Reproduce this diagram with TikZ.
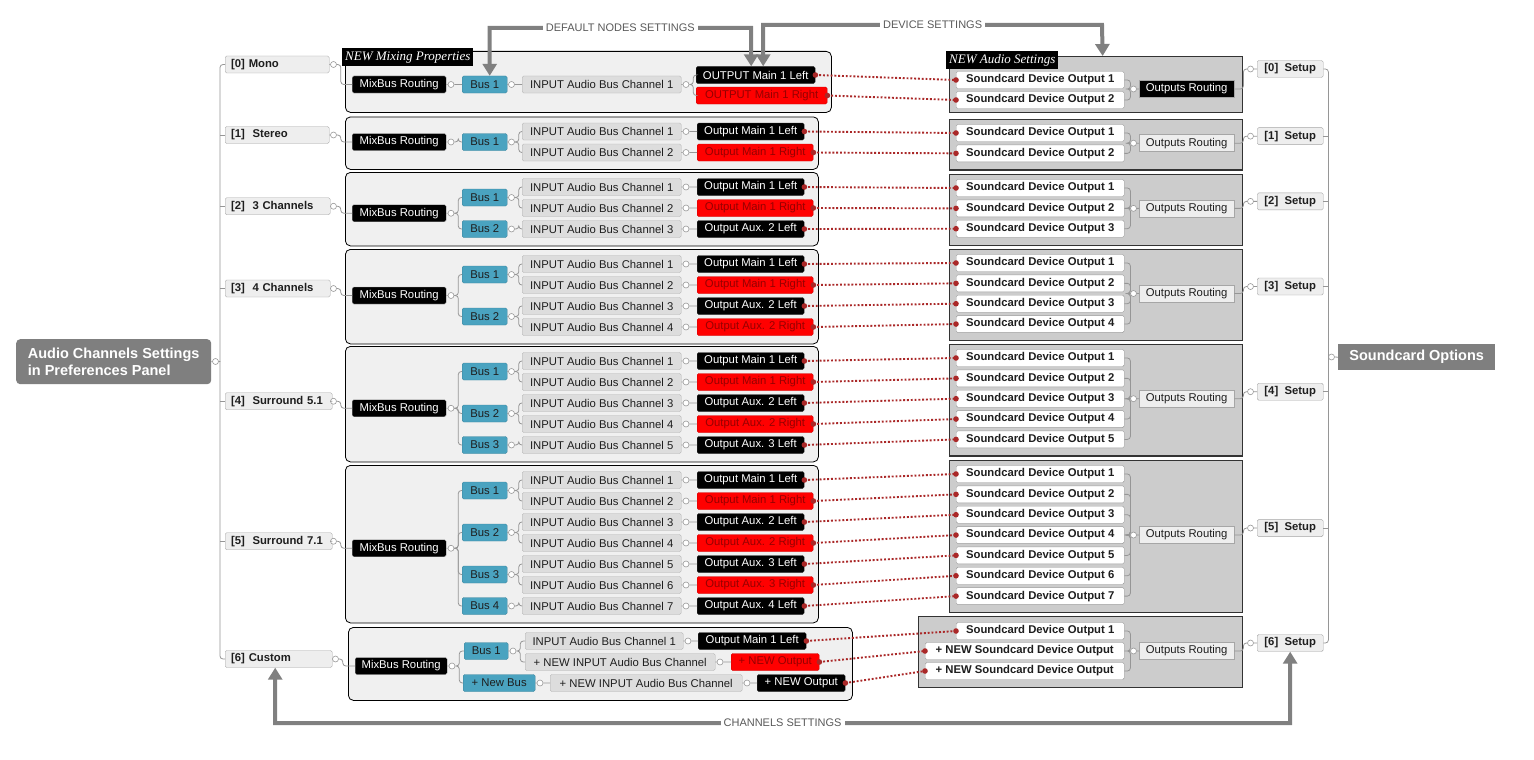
\documentclass[tikz,border=0pt]{standalone}
\usepackage{fontspec}
\setmainfont{Liberation Sans}
\newfontfamily\tagserif{Liberation Serif}
\usetikzlibrary{arrows.meta}
\definecolor{busc}{RGB}{74,163,192}
\definecolor{catfill}{RGB}{238,238,238}
\definecolor{inpfill}{RGB}{221,221,221}
\definecolor{panelfill}{RGB}{240,240,240}
\definecolor{rpanelfill}{RGB}{204,204,204}
\definecolor{bigfill}{RGB}{127,127,127}
\definecolor{arrowc}{RGB}{128,128,128}
\definecolor{linec}{RGB}{150,150,150}
\definecolor{dotc}{RGB}{170,40,40}
\definecolor{redtext}{RGB}{150,0,0}
\definecolor{lblc}{RGB}{90,90,90}
\definecolor{txt}{RGB}{30,30,30}
\newcommand\outlab[1]{\ifcase#1\or Output Main 1 Left\or Output Main 1 Right\or Output Aux. 2 Left\or Output Aux. 2 Right\or Output Aux. 3 Left\or Output Aux. 3 Right\or Output Aux. 4 Left\fi}
\tikzset{
  bx/.style={rounded corners=1.5pt, minimum height=17pt, inner xsep=2pt, inner ysep=0pt, anchor=west, text=txt, font=\fontsize{11.3}{13}\selectfont},
  catbox/.style={bx, draw=gray!70, fill=catfill, font=\fontsize{11.3}{13}\selectfont\bfseries, text width=#1, inner xsep=6pt, align=left},
  catbox/.default=92pt,
  mixbox/.style={bx, fill=black, draw=gray!60, text=white, minimum width=#1},
  mixbox/.default=94pt,
  busbox/.style={bx, fill=busc, draw=busc!80!black, minimum width=#1},
  busbox/.default=45pt,
  inbox/.style={bx, fill=inpfill, draw=gray!60, minimum width=#1},
  inbox/.default=159pt,
  outL/.style={bx, fill=black, draw=gray!40!black, text=white, minimum width=#1},
  outL/.default=107pt,
  outR/.style={bx, fill=red, draw=red!80!black, text=redtext, minimum width=#1},
  outR/.default=116pt,
  sdo/.style={bx, fill=white, draw=gray!80, font=\fontsize{11.3}{13}\selectfont\bfseries, minimum width=#1},
  sdo/.default=168pt,
  rout/.style={bx, sharp corners, fill=catfill, draw=gray!70, minimum width=95pt},
  routb/.style={rout, fill=black, text=white},
  setb/.style={bx, fill=catfill, draw=gray!70, font=\fontsize{11.3}{13}\selectfont\bfseries, minimum width=66pt},
  cc/.style={circle, draw=gray!80, fill=white, inner sep=0pt, minimum size=6pt, line width=0.6pt},
  tl/.style={draw=linec, line width=0.8pt, rounded corners=3pt},
  tr/.style={to path={-- ++(#1,0) |- (\tikztotarget)}},
  tr/.default=4pt,
  dl/.style={draw=dotc, line width=1.9pt, dash pattern=on 1.9pt off 1.9pt},
  big/.style={draw=arrowc, line width=4pt, >={Triangle[width=14pt,length=12pt]}, <->},
  lbl/.style={fill=white, text=lblc, font=\fontsize{11}{12}\selectfont, inner xsep=3pt, inner ysep=1pt},
  panelL/.style={draw=black, fill=panelfill, rounded corners=5pt, line width=0.8pt, inner sep=0pt, anchor=north west},
  panelR/.style={draw=black!80, fill=rpanelfill, line width=1.3pt, inner sep=0pt, anchor=north west},
  tagb/.style={fill=black, text=white, font={\fontsize{13}{14}\selectfont\tagserif\itshape}, inner xsep=3pt, inner ysep=0pt, minimum height=18pt, anchor=north west},
  bigbox/.style={fill=bigfill, text=white, font=\fontsize{14.5}{17.5}\selectfont\bfseries, inner sep=0pt, anchor=north west},
}
\begin{document}
\begin{tikzpicture}[x=1pt,y=-1pt]
\fill[white] (0,0) rectangle (1534,760);
\path[use as bounding box] (0,0) rectangle (1534,760);

% ===== group 0 =====
\node[panelL, minimum width=486pt, minimum height=61pt] (p0) at (345,51) {};
\node[tagb] (t0) at (342,48) {NEW Mixing Properties};
\node[panelR, minimum width=293pt, minimum height=56pt] (q0) at (949,56) {};
\node[tagb] (t1) at (946,51) {NEW Audio Settings};
\node[catbox] (g0-cat) at (225,64.5) {[0] Mono};
\node[cc] (g0-catc) at (333.5,64.5) {};
\node[mixbox] (g0-mix) at (352,84.5) {MixBus Routing};
\node[cc] (g0-mixc) at (451,84.5) {};
\node[busbox] (g0-b1) at (462,84.5) {Bus 1};
\node[cc] (g0-bc1) at (511.5,84.5) {};
\node[inbox] (g0-i1) at (522,84.5) {INPUT Audio Bus Channel 1};
\node[cc] (g0-ic1) at (686,84.5) {};
\node[outL=119pt] (g0-o1) at (696,75) {OUTPUT Main 1 Left};
\node[outR=131pt] (g0-o2) at (696,95.5) {OUTPUT Main 1 Right};
\node[sdo] (g0-s1) at (956,80) {Soundcard Device Output 1};
\node[sdo] (g0-s2) at (956,100) {Soundcard Device Output 2};
\node[cc] (g0-rc) at (1133.5,89) {};
\node[routb] (g0-r) at (1139,89) {Outputs Routing};
\node[cc] (g0-setc) at (1250.5,69) {};
\node[setb] (g0-set) at (1257,69) {[0]~ Setup};
\draw[tl] (g0-cat.east) -- (g0-catc.west) (g0-catc.east) to[tr] (g0-mix.west)
  (g0-mix.east) -- (g0-mixc.west) (g0-mixc.east) -- (g0-b1.west)
  (g0-b1.east) -- (g0-bc1.west) (g0-bc1.east) -- (g0-i1.west)
  (g0-i1.east) -- (g0-ic1.west) (g0-ic1.east) to[tr] (g0-o1.west) (g0-ic1.east) to[tr] (g0-o2.west)
  (g0-s1.east) to[tr=6pt] (g0-rc.west) (g0-s2.east) to[tr=6pt] (g0-rc.west)
  (g0-rc.east) -- (g0-r.west) (g0-r.east) to[tr=9pt] (g0-setc.west) (g0-setc.east) -- (g0-set.west);
\draw[dl] (g0-o1.east) -- (g0-s1.west) (g0-o2.east) -- (g0-s2.west);
\fill[dotc] (g0-o1.east) circle (2.8pt) (g0-s1.west) circle (2.8pt) (g0-o2.east) circle (2.8pt) (g0-s2.west) circle (2.8pt);

% ===== groups 1-5 =====
\foreach \g/\n/\ya/\yr/\cl/\cw in {1/2/131.5/133/Stereo/92pt,2/3/187/188/3 Channels/93pt,3/4/264/263/4 Channels/93pt,4/5/361/358/Surround 5.1/95pt,5/7/480/474/Surround 7.1/95pt}{
  \pgfmathtruncatemacro\nb{(\n+1)/2}
  \pgfmathsetmacro\ylast{\ya+(\n-1)*21}
  \pgfmathsetmacro\ybl{\ya+((2*\nb-2)+(min(2*\nb,\n)-1))/2*21}
  \pgfmathsetmacro\ymix{(\ya+10.5+\ybl)/2}
  \pgfmathsetmacro\ycat{\ymix-7}
  \pgfmathsetmacro\ph{\ylast-\ya+31.5}
  \pgfmathsetmacro\ptop{\ya-15}
  \pgfmathsetmacro\rlast{\yr+(\n-1)*20.35}
  \pgfmathsetmacro\yrout{(\yr+\rlast)/2}
  \pgfmathsetmacro\yset{\yrout-7}
  \pgfmathsetmacro\rtop{\yr-14.5}
  \pgfmathsetmacro\rh{\rlast-\yr+30.5}
  \node[panelL, minimum width=473pt, minimum height=\ph] (p\g) at (345,\ptop) {};
  \node[panelR, minimum width=293pt, minimum height=\rh] (q\g) at (949,\rtop) {};
  \node[catbox=\cw] (g\g-cat) at (225,\ycat) {[\g]~ \cl};
  \node[cc] (g\g-catc) at (333.5,\ycat) {};
  \node[mixbox] (g\g-mix) at (352,\ymix) {MixBus Routing};
  \node[cc] (g\g-mixc) at (451,\ymix) {};
  \draw[tl] (g\g-cat.east) -- (g\g-catc.west) (g\g-catc.east) to[tr] (g\g-mix.west) (g\g-mix.east) -- (g\g-mixc.west);
  \foreach \k in {1,...,\nb}{
    \pgfmathsetmacro\yb{\ya+((2*\k-2)+(min(2*\k,\n)-1))/2*21}
    \node[busbox] (g\g-b\k) at (462,\yb) {Bus \k};
    \node[cc] (g\g-bc\k) at (511.5,\yb) {};
    \draw[tl] (g\g-mixc.east) to[tr] (g\g-b\k.west) (g\g-b\k.east) -- (g\g-bc\k.west);
  }
  \node[cc] (g\g-rc) at (1133.5,\yrout) {};
  \node[rout] (g\g-r) at (1139,\yrout) {Outputs Routing};
  \node[cc] (g\g-setc) at (1250.5,\yset) {};
  \node[setb] (g\g-set) at (1257,\yset) {[\g]~ Setup};
  \draw[tl] (g\g-rc.east) -- (g\g-r.west) (g\g-r.east) to[tr=9pt] (g\g-setc.west) (g\g-setc.east) -- (g\g-set.west);
  \foreach \k in {1,...,\n}{
    \pgfmathsetmacro\yc{\ya+(\k-1)*21}
    \pgfmathsetmacro\ys{\yr+(\k-1)*20.35}
    \pgfmathtruncatemacro\kb{(\k+1)/2}
    \node[inbox] (g\g-i\k) at (522,\yc) {INPUT Audio Bus Channel \k};
    \node[cc] (g\g-ic\k) at (686,\yc) {};
    \ifodd\k
      \node[outL] (g\g-o\k) at (697,\yc) {\outlab{\k}};
    \else
      \node[outR] (g\g-o\k) at (697,\yc) {\outlab{\k}};
    \fi
    \node[sdo] (g\g-s\k) at (956,\ys) {Soundcard Device Output \k};
    \draw[tl] (g\g-bc\kb.east) to[tr] (g\g-i\k.west) (g\g-i\k.east) -- (g\g-ic\k.west) (g\g-ic\k.east) -- (g\g-o\k.west);
    \draw[tl] (g\g-s\k.east) to[tr=6pt] (g\g-rc.west);
    \draw[dl] (g\g-o\k.east) -- (g\g-s\k.west);
    \fill[dotc] (g\g-o\k.east) circle (2.8pt) (g\g-s\k.west) circle (2.8pt);
  }
}

% ===== group 6 =====
\node[panelL, minimum width=504pt, minimum height=73pt] (p6) at (348,627) {};
\node[panelR, minimum width=324pt, minimum height=71pt] (q6) at (918,616) {};
\node[catbox=95pt] (g6-cat) at (225,659) {[6] Custom};
\node[cc] (g6-catc) at (335.5,659) {};
\node[mixbox=92pt] (g6-mix) at (355,666) {MixBus Routing};
\node[cc] (g6-mixc) at (452,666) {};
\node[busbox=44pt] (g6-b1) at (464,651) {Bus 1};
\node[cc] (g6-bc1) at (513,651) {};
\node[busbox=72pt] (g6-b2) at (463,683) {+ New Bus};
\node[cc] (g6-bc2) at (540,683) {};
\node[inbox=158pt] (g6-i1) at (525,641) {INPUT Audio Bus Channel 1};
\node[cc] (g6-ic1) at (688,641) {};
\node[inbox=190pt] (g6-i2) at (525,662) {+ NEW INPUT Audio Bus Channel};
\node[cc] (g6-ic2) at (720,662) {};
\node[inbox=192pt] (g6-i3) at (550,683) {+ NEW INPUT Audio Bus Channel};
\node[cc] (g6-ic3) at (747,683) {};
\node[outL=108pt] (g6-o1) at (698,641) {Output Main 1 Left};
\node[outR=88pt] (g6-o2) at (731,662) {+ NEW Output};
\node[outL=88pt] (g6-o3) at (757,683) {+ NEW Output};
\node[sdo] (g6-s1) at (956,631) {Soundcard Device Output 1};
\node[sdo=199pt] (g6-s2) at (925,651) {+ NEW Soundcard Device Output};
\node[sdo=199pt] (g6-s3) at (925,671) {+ NEW Soundcard Device Output};
\node[cc] (g6-rc) at (1133.5,651) {};
\node[rout] (g6-r) at (1139,651) {Outputs Routing};
\node[cc] (g6-setc) at (1250.5,643) {};
\node[setb] (g6-set) at (1257,643) {[6]~ Setup};
\draw[tl] (g6-cat.east) -- (g6-catc.west) (g6-catc.east) to[tr] (g6-mix.west) (g6-mix.east) -- (g6-mixc.west)
  (g6-mixc.east) to[tr] (g6-b1.west) (g6-mixc.east) to[tr] (g6-b2.west)
  (g6-b1.east) -- (g6-bc1.west) (g6-b2.east) -- (g6-bc2.west)
  (g6-bc1.east) to[tr] (g6-i1.west) (g6-bc1.east) to[tr] (g6-i2.west) (g6-bc2.east) -- (g6-i3.west)
  (g6-i1.east) -- (g6-ic1.west) (g6-ic1.east) -- (g6-o1.west)
  (g6-i2.east) -- (g6-ic2.west) (g6-ic2.east) -- (g6-o2.west)
  (g6-i3.east) -- (g6-ic3.west) (g6-ic3.east) -- (g6-o3.west)
  (g6-s1.east) to[tr=6pt] (g6-rc.west) (g6-s2.east) to[tr=6pt] (g6-rc.west) (g6-s3.east) to[tr=6pt] (g6-rc.west)
  (g6-rc.east) -- (g6-r.west) (g6-r.east) to[tr=9pt] (g6-setc.west) (g6-setc.east) -- (g6-set.west);
\draw[dl] (g6-o1.east) -- (g6-s1.west) (g6-o2.east) -- (g6-s2.west) (g6-o3.east) -- (g6-s3.west);
\fill[dotc] (g6-o1.east) circle (2.8pt) (g6-s1.west) circle (2.8pt) (g6-o2.east) circle (2.8pt) (g6-s2.west) circle (2.8pt) (g6-o3.east) circle (2.8pt) (g6-s3.west) circle (2.8pt);

% ===== roots and spines =====
\node[bigbox, rounded corners=4pt, minimum width=195pt, minimum height=45pt, align=left] (main) at (16,339) {Audio Channels Settings\\in Preferences Panel};
\node[cc] (mainc) at (215.5,361.5) {};
\draw[tl] (main.east) -- (mainc.west) (mainc.east) -- ++(1.5pt,0);
\draw[tl] (g0-cat.west) -- ++(-5pt,0) |- (g6-cat.west);
\foreach \g in {1,...,5}{\draw[tl] (g\g-cat.west) -- ++(-5pt,0);}

\node[bigbox, minimum width=157pt, minimum height=26pt] (so) at (1338,344) {Soundcard Options};
\node[cc] (soc) at (1331.5,357) {};
\draw[tl] (soc.east) -- (so.west);
\draw[tl] (g0-set.east) -- ++(5pt,0) |- (g6-set.east);
\foreach \g in {1,...,5}{\draw[tl] (g\g-set.east) -- ++(5pt,0);}

% ===== big arrows =====
\coordinate (dny) at (751,28);
\coordinate (dvy) at (1102,25);
\coordinate (chy) at (1290,723);
\draw[big] ([xshift=5pt]g0-b1.north) |- node[lbl,pos=0.75]{DEFAULT NODES SETTINGS} (dny) -- ([xshift=-4.5pt]g0-o1.north);
\draw[big] ([xshift=7.5pt]g0-o1.north) |- node[lbl,pos=0.75]{DEVICE SETTINGS} (dvy) -- ([xshift=6.5pt]q0.north);
\draw[big] ([xshift=-3.5pt]g6-cat.south) |- node[lbl,pos=0.75]{CHANNELS SETTINGS} (chy) -- (g6-set.south);
\end{tikzpicture}
\end{document}
